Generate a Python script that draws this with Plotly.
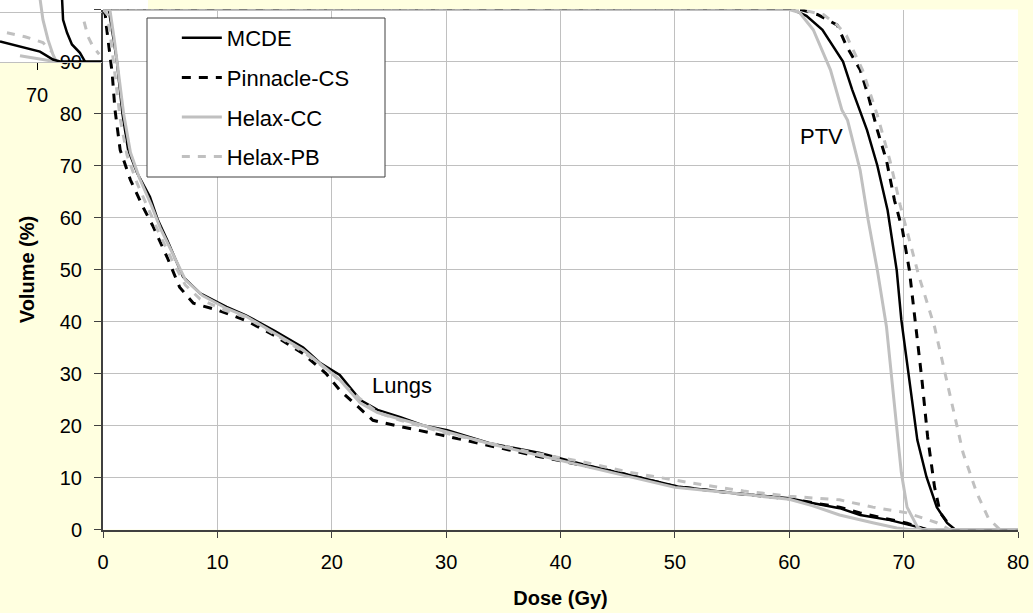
import plotly.graph_objects as go

# ---------------- data ----------------
algorithms = ["MCDE", "Pinnacle-CS", "Helax-CC", "Helax-PB"]

# Lungs DVH
lung_mcde_d = [0, 0.5, 0.8, 1.2, 1.7, 2.2, 3.0, 4.1, 4.8, 5.6, 7.0, 8.5, 10.8, 12.5, 15, 17.5, 19, 20.7, 22.5, 24, 26, 28, 30.1, 33.8, 38.2, 42, 46, 50.4, 55, 60, 62, 64.4, 66.2, 68.8, 71.2, 72, 80]
lung_mcde_v = [100, 100, 96, 90.3, 80, 73, 68.5, 64, 59.5, 55.7, 48.6, 45.4, 42.8, 41.2, 38.2, 35, 32, 29.7, 24.9, 23, 21.6, 20, 19.1, 16.6, 14.7, 12.5, 10.5, 8.2, 7, 6, 5.1, 4.1, 2.8, 1.8, 0.5, 0, 0]

lung_pinn_d = [0, 0.2, 0.3, 0.8, 1.05, 1.5, 2.4, 3.5, 4.4, 5.6, 6.7, 7.9, 10, 12.5, 15, 17.5, 19.5, 20.7, 23.6, 26, 29.5, 34, 38.2, 45, 50, 55, 60, 64.4, 66.2, 70.3, 72, 80]
lung_pinn_v = [100, 99, 96.7, 87.8, 80.7, 73, 67.2, 62, 58.2, 52.4, 46.6, 43.5, 42.2, 40.2, 37.3, 33.8, 30, 26.8, 21, 19.8, 18.2, 16, 14, 11, 8.3, 7, 5.9, 4.3, 3.2, 1.2, 0, 0]

lung_hcc_d = [0, 0.6, 1.0, 1.4, 1.8, 2.4, 3.2, 4.2, 5, 6, 7.2, 8.7, 10.8, 12.5, 15, 17.5, 19.5, 20.7, 22.5, 24, 26, 30, 34, 38, 42, 46, 50, 55, 60, 62, 64.4, 67.3, 69.4, 70.5, 80]
lung_hcc_v = [100, 100, 94, 87, 80, 72.5, 67.5, 62.5, 58, 53.5, 48, 45, 42.5, 41, 37.8, 34.5, 31, 28.8, 24.3, 22.5, 21.2, 18.8, 16.4, 14.3, 12.2, 10.2, 8.1, 7, 5.8, 4.6, 2.8, 1.3, 0.3, 0, 0]

lung_hpb_d = [0, 0.4, 0.7, 1.1, 1.5, 2.1, 3.0, 4.0, 4.9, 6, 7.2, 8.5, 10.5, 12.5, 15, 17.5, 20, 22, 24, 26, 30, 34, 38, 42, 46, 51.6, 56, 60, 64.4, 67.3, 70.3, 72.9, 74, 80]
lung_hpb_v = [100, 99, 94, 86, 79, 72, 66.5, 61.5, 57, 52, 47, 44.3, 42.3, 40.8, 37.6, 34.2, 30, 26, 22.5, 21, 18.5, 16.5, 14.6, 13, 11, 8.9, 7.4, 6.4, 5.7, 4.3, 3.2, 1.3, 0, 0]

# PTV DVH
ptv_mcde_d = [0, 60.3, 61.5, 62.9, 64.7, 65.5, 66.8, 67.7, 68.6, 69.4, 69.8, 70.4, 71.2, 72.0, 72.9, 73.8, 74.5, 80]
ptv_mcde_v = [100, 100, 98.8, 96.1, 90, 84.6, 76.8, 70, 61.4, 49.8, 40.3, 30.7, 17.2, 10.1, 4.3, 1.25, 0, 0]

ptv_pinn_d = [0, 61, 62.5, 64.2, 65, 66.2, 66.9, 67.7, 68.5, 69.2, 69.9, 70.5, 71, 71.6, 72.1, 72.7, 73.2, 74.3, 80]
ptv_pinn_v = [100, 100, 99, 97, 93, 88.4, 83.5, 76.8, 71, 63.3, 57.6, 49.9, 40.3, 28.8, 17.8, 8.2, 3.2, 0, 0]

ptv_hcc_d = [0, 60, 60.9, 62.1, 63.6, 64.6, 65.1, 66.2, 66.9, 67.7, 68.5, 69.1, 69.8, 70.3, 71.2, 71.6, 80]
ptv_hcc_v = [100, 100, 99.4, 96.1, 88.4, 80.7, 78.7, 69.1, 59.5, 49.9, 39, 26.2, 10.9, 4.3, 0.5, 0, 0]

ptv_hpb_d = [0, 61, 63, 64.2, 65, 66.4, 67.7, 68.8, 69.7, 70.7, 71.3, 72.7, 74.0, 75.2, 76.4, 77.4, 78.4, 80]
ptv_hpb_v = [100, 100, 99, 97, 95, 88.4, 79.7, 71, 62.4, 53.8, 49, 39, 26.2, 14.7, 7, 2.2, 0, 0]

# partially visible inset (top-left corner)
inset_mcde_a_x = [67.5, 68.85, 70.2, 71.08, 71.55, 72.5, 73.24, 74.4]
inset_mcde_a_y = [94.1, 93.06, 92.04, 90.4, 90, 90, 90, 90]
inset_mcde_b_x = [71.69, 71.76, 72.03, 72.36, 72.9, 73.24]
inset_mcde_b_y = [103, 98.57, 95.9, 93.5, 91.8, 90]
inset_hcc_a_x = [70.2, 70.4, 70.74, 71.08, 71.3]
inset_hcc_a_y = [103, 98.6, 94.5, 91.4, 90]
inset_hcc_b_x = [68.85, 69.7, 70.54, 71.2]
inset_hcc_b_y = [91.2, 90.8, 90.3, 90]
inset_hpb_a_x = [67.97, 69.19, 70.4, 71.0]
inset_hpb_a_y = [95.9, 95.1, 93.9, 92]
inset_hpb_b_x = [73.18, 73.45, 73.78, 74.2]
inset_hpb_b_y = [98.2, 95.1, 93.06, 91.5]

x_ticks = [0, 10, 20, 30, 40, 50, 60, 70, 80]
y_ticks = [0, 10, 20, 30, 40, 50, 60, 70, 80, 90, 100]

# ---------------- styles ----------------
FONT = "Liberation Sans, Arial, sans-serif"
GREY = "#C0C0C0"
styles = {
    "MCDE": dict(color="black", width=2.5, dash="solid"),
    "Pinnacle-CS": dict(color="black", width=3, dash="9px,8px"),
    "Helax-CC": dict(color=GREY, width=3, dash="solid"),
    "Helax-PB": dict(color=GREY, width=3, dash="8px,8px"),
}
series = {
    "MCDE": [(lung_mcde_d, lung_mcde_v), (ptv_mcde_d, ptv_mcde_v)],
    "Pinnacle-CS": [(lung_pinn_d, lung_pinn_v), (ptv_pinn_d, ptv_pinn_v)],
    "Helax-CC": [(lung_hcc_d, lung_hcc_v), (ptv_hcc_d, ptv_hcc_v)],
    "Helax-PB": [(lung_hpb_d, lung_hpb_v), (ptv_hpb_d, ptv_hpb_v)],
}

W, H = 1033, 613
fig = go.Figure()

# inset traces
inset = [
    (inset_hpb_a_x, inset_hpb_a_y, "Helax-PB"),
    (inset_hpb_b_x, inset_hpb_b_y, "Helax-PB"),
    (inset_hcc_a_x, inset_hcc_a_y, "Helax-CC"),
    (inset_hcc_b_x, inset_hcc_b_y, "Helax-CC"),
    (inset_mcde_a_x, inset_mcde_a_y, "MCDE"),
    (inset_mcde_b_x, inset_mcde_b_y, "MCDE"),
]
for xs, ys, name in inset:
    st = styles[name]
    fig.add_trace(go.Scatter(x=xs, y=ys, mode="lines", xaxis="x2", yaxis="y2",
                             line=dict(color=st["color"], width=st["width"], dash=st["dash"]),
                             showlegend=False, hoverinfo="skip"))

for i, name in enumerate(algorithms):
    st = styles[name]
    for j, (d, v) in enumerate(series[name]):
        fig.add_trace(go.Scatter(
            x=d, y=v, mode="lines", name=name, legendgroup=name,
            showlegend=(j == 0), legendrank=i,
            line=dict(color=st["color"], width=st["width"], dash=st["dash"]),
        ))

x0p, x1p = 103, 1018
y_top, y_bot = 9.5, 529.5

axis_common = dict(
    showgrid=True, gridcolor=GREY, gridwidth=1, zeroline=False,
    showline=True, linecolor="#404040", linewidth=2,
    ticks="outside", tickcolor="#404040", tickwidth=1,
    tickfont=dict(family=FONT, size=20, color="black"),
)

fig.update_layout(
    width=W, height=H,
    margin=dict(l=0, r=0, t=0, b=0),
    paper_bgcolor="#FFFFE0",
    plot_bgcolor="white",
    font=dict(family=FONT, size=20, color="black"),
    xaxis=dict(domain=[x0p / W, x1p / W], range=[0, 80], tickvals=x_ticks,
               ticklen=6, ticklabelstandoff=7, automargin=False,
               title=dict(text="<b>Dose (Gy)</b>", font=dict(family=FONT, size=20), standoff=19),
               **axis_common),
    yaxis=dict(domain=[1 - y_bot / H, 1 - y_top / H], range=[0, 100], tickvals=y_ticks,
               ticklen=7, ticklabelstandoff=8, automargin=False,
               title=dict(text="<b>Volume (%)</b>", font=dict(family=FONT, size=20), standoff=20),
               **axis_common),
    xaxis2=dict(domain=[0, 102 / W], range=[67.5, 74.39], anchor="y2",
                tickvals=[70], ticks="outside", ticklen=7, tickcolor="black",
                showgrid=False, zeroline=False, showline=True, linecolor=GREY, linewidth=1,
                ticklabelstandoff=8, automargin=False,
                tickfont=dict(family=FONT, size=20, color="black")),
    yaxis2=dict(domain=[1 - 62 / H, 1], range=[89.9, 102.65], anchor="x2",
                tickvals=[90, 100], showticklabels=False, ticks="",
                showgrid=True, gridcolor=GREY, zeroline=False, showline=False,
                automargin=False),
    legend=dict(x=189 / W - 0.005 - 7 / W, y=1 - 17 / H, xanchor="left", yanchor="top",
                bgcolor="rgba(0,0,0,0)", borderwidth=0, itemwidth=40,
                font=dict(family=FONT, size=22, color="black"),
                traceorder="grouped", tracegroupgap=8),
    shapes=[
        dict(type="rect", xref="paper", yref="paper", x0=0, x1=148 / W,
             y0=1 - 62 / H, y1=1, fillcolor="white", line=dict(width=0), layer="below"),
        dict(type="rect", xref="paper", yref="paper", x0=147 / W, x1=385 / W,
             y0=1 - 177 / H, y1=1 - 18 / H, fillcolor="white",
             line=dict(color="#404040", width=1), layer="above"),
    ],
    annotations=[
        dict(x=62.8, y=75.5, xref="x", yref="y", text="PTV", showarrow=False,
             font=dict(family=FONT, size=22, color="black")),
        dict(x=26.1, y=27.6, xref="x", yref="y", text="Lungs", showarrow=False,
             font=dict(family=FONT, size=22, color="black")),
    ],
)

fig.write_html("out.html", config={"displayModeBar": False},
               post_script="document.body.style.margin='0';document.body.style.overflow='hidden';")
